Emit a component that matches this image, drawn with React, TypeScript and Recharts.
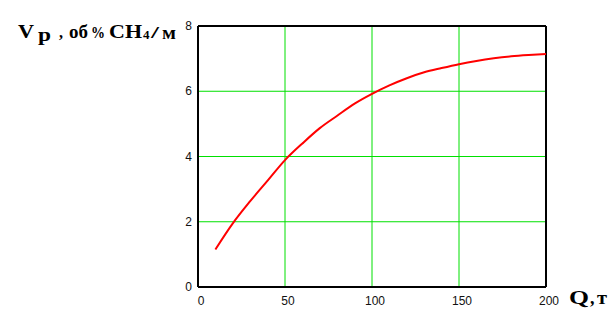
import { LineChart, Line, XAxis, YAxis, ReferenceLine } from 'recharts';

// Q, т
const qValues = [10, 20, 30, 40, 50, 60, 70, 80, 90, 100, 110, 120, 130, 140, 150, 160, 170, 180, 190, 200];
// Vр, об % CH4 / м
const vValues = [1.15, 1.95, 2.63, 3.26, 3.89, 4.4, 4.87, 5.25, 5.62, 5.92, 6.18, 6.4, 6.58, 6.71, 6.83, 6.93, 7.01, 7.07, 7.11, 7.14];

const xTicks = [0, 50, 100, 150, 200];
const yTicks = [0, 2, 4, 6, 8];
// inner grid lines (green) and the frame edges (black)
const xGrid = [50, 100, 150];
const yGrid = [2, 4, 6];
const xEdges = [0, 200];
const yEdges = [0, 8];

const data = qValues.map((q, i) => ({ q, v: vValues[i] }));

const tickFont = { fontFamily: 'Liberation Sans, Arial, sans-serif', fontSize: 12, fill: '#111' };
const titleFont = { fontFamily: 'Liberation Serif, Times New Roman, serif', fontWeight: 'bold' as const, fill: '#000' };
const gridColor = '#00e000';
const stretch = 'spacingAndGlyphs';

const XTick = ({ x, y, payload }: any) => (
  <text x={x + 3} y={y} dy="0.71em" textAnchor="middle" {...tickFont}>{payload.value}</text>
);

const YTick = ({ x, y, payload }: any) => (
  <text x={x} y={y} dy="0.35em" textAnchor="end" {...tickFont}>{payload.value}</text>
);

export default function App() {
  return (
    <div style={{ position: 'absolute', left: 0, top: 0, width: 616, height: 328, background: '#fff' }}>
      <LineChart width={616} height={328} data={data} margin={{ top: 26, right: 70, bottom: 0, left: 0 }}>
        <XAxis dataKey="q" type="number" domain={[0, 200]} ticks={xTicks} height={41}
          axisLine={false} tickLine={false} tickSize={6} tickMargin={3} tick={<XTick />} interval={0} />
        <YAxis type="number" domain={[0, 8]} ticks={yTicks} width={198}
          axisLine={false} tickLine={false} tickSize={6} tickMargin={0} tick={<YTick />} interval={0} />
        {xGrid.map((v) => <ReferenceLine key={'gx' + v} x={v} stroke={gridColor} strokeWidth={1} />)}
        {yGrid.map((v) => <ReferenceLine key={'gy' + v} y={v} stroke={gridColor} strokeWidth={1} />)}
        {xEdges.map((v) => <ReferenceLine key={'ex' + v} x={v} stroke="#000" strokeWidth={2} />)}
        {yEdges.map((v) => <ReferenceLine key={'ey' + v} y={v} stroke="#000" strokeWidth={2} />)}
        <Line type="monotone" dataKey="v" stroke="#ff0000" strokeWidth={2} dot={false} isAnimationActive={false} />
      </LineChart>
      <svg width={616} height={328} style={{ position: 'absolute', left: 0, top: 0, pointerEvents: 'none' }}>
        <text y={38} {...titleFont}>
          <tspan x={18} fontSize={18} textLength={16} lengthAdjust={stretch}>V</tspan>
          <tspan x={38} dy={3} fontSize={18} textLength={13} lengthAdjust={stretch}>р</tspan>
          <tspan x={59} dy={-3} fontSize={16}>,</tspan>
          <tspan x={69} fontSize={18} textLength={19} lengthAdjust={stretch}>об</tspan>
          <tspan x={91} fontSize={17} textLength={14} lengthAdjust={stretch}>%</tspan>
          <tspan x={109} fontSize={18} textLength={33} lengthAdjust={stretch}>CH</tspan>
          <tspan x={143} dy={1} fontSize={13}>4</tspan>
          <tspan x={151} dy={-1} fontSize={17} textLength={8} lengthAdjust={stretch}>/</tspan>
          <tspan x={162} dy={1} fontSize={18} textLength={14} lengthAdjust={stretch}>м</tspan>
        </text>
        <text y={304} fontSize={18} {...titleFont}>
          <tspan x={569} textLength={20} lengthAdjust={stretch}>Q</tspan>
          <tspan x={590}>,</tspan>
          <tspan x={597} textLength={10} lengthAdjust={stretch}>т</tspan>
        </text>
      </svg>
    </div>
  );
}
